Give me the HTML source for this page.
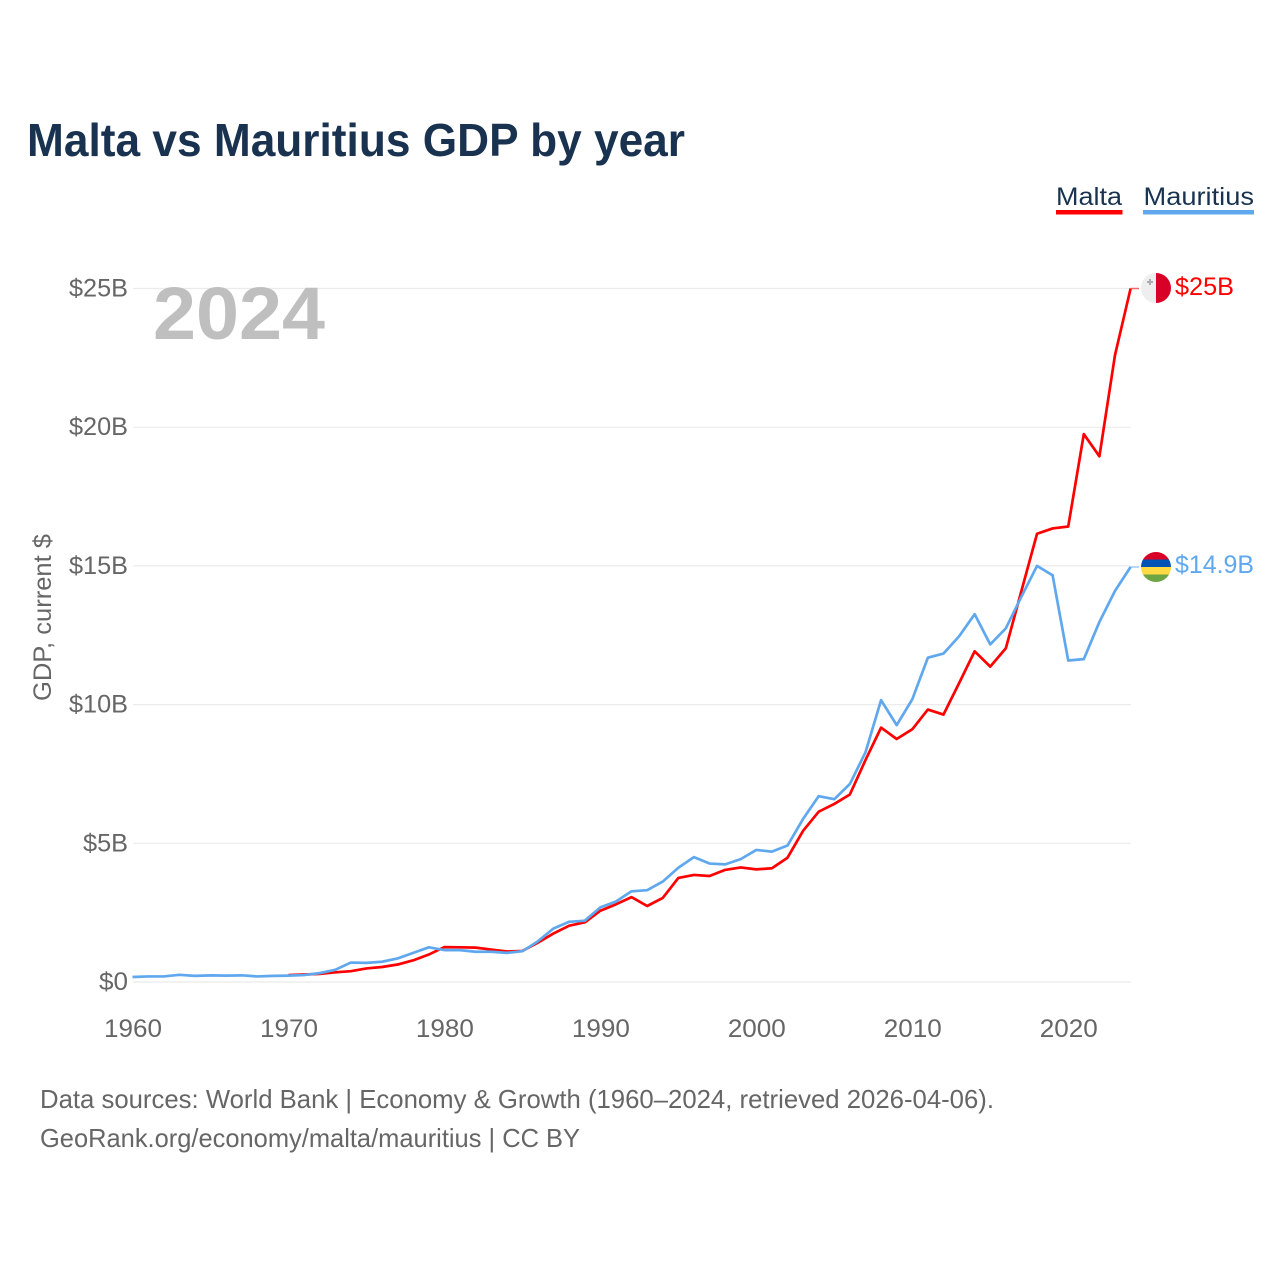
<!DOCTYPE html>
<html lang="en">
<head>
<meta charset="utf-8">
<title>Malta vs Mauritius GDP by year</title>
<style>
html,body{margin:0;padding:0;background:#fff;width:1280px;height:1280px;overflow:hidden}
svg{display:block}
text{font-family:"Liberation Sans",sans-serif}
</style>
</head>
<body>
<svg id="chart" xmlns="http://www.w3.org/2000/svg" width="1280" height="1280" viewBox="0 0 1280 1280">
  <rect width="1280" height="1280" fill="#fff"/>
  <text x="27" y="156" font-size="46" font-weight="700" fill="#18324f" textLength="658" lengthAdjust="spacingAndGlyphs">Malta vs Mauritius GDP by year</text>

  <g>
    <text x="1056" y="205" font-size="25" fill="#18324f" textLength="66" lengthAdjust="spacingAndGlyphs">Malta</text>
    <rect x="1056" y="210" width="66.500" height="4.500" fill="#ff0000"/>
  </g>
  <g>
    <text x="1143.500" y="205" font-size="25" fill="#18324f" textLength="110.500" lengthAdjust="spacingAndGlyphs">Mauritius</text>
    <rect x="1143" y="210" width="111" height="4.500" fill="#60a8ee"/>
  </g>

  <g id="grid"></g>
  <g id="yticks"></g>
  <g id="xticks"></g>

  <text x="153" y="339" font-size="74" font-weight="700" fill="#bfbfbf" textLength="172" lengthAdjust="spacingAndGlyphs">2024</text>

  <text transform="translate(51,701) rotate(-90)" x="0" y="0" font-size="25" fill="#666" textLength="167" lengthAdjust="spacingAndGlyphs">GDP, current $</text>

  <g id="series"></g>

  <g>
    <clipPath id="clip-mt"><circle cx="1156" cy="288" r="15"/></clipPath>
    <g clip-path="url(#clip-mt)">
      <rect x="1141" y="273" width="15" height="30" fill="#eeeeee"/>
      <rect x="1156" y="273" width="15" height="30" fill="#d80027"/>
      <path d="M1149 279h2v2h2v2h-2v2h-2v-2h-2v-2h2z" fill="#acabb1"/>
    </g>
  </g>
  <g>
    <clipPath id="clip-mu"><circle cx="1156" cy="567" r="15"/></clipPath>
    <g clip-path="url(#clip-mu)">
      <rect x="1141" y="552" width="30" height="7.500" fill="#d80027"/>
      <rect x="1141" y="559.500" width="30" height="7.500" fill="#0052b4"/>
      <rect x="1141" y="567" width="30" height="7.500" fill="#ffda44"/>
      <rect x="1141" y="574.500" width="30" height="7.500" fill="#6da544"/>
    </g>
  </g>

  <text x="1175" y="295" font-size="25" fill="#ff0000" textLength="59" lengthAdjust="spacingAndGlyphs">$25B</text>
  <text x="1175" y="573" font-size="25" fill="#60a8ee" textLength="79" lengthAdjust="spacingAndGlyphs">$14.9B</text>

  <text x="40" y="1108" font-size="26" fill="#666" textLength="954" lengthAdjust="spacingAndGlyphs">Data sources: World Bank | Economy &amp; Growth (1960–2024, retrieved 2026-04-06).</text>
  <text x="40" y="1147" font-size="26" fill="#666" textLength="540" lengthAdjust="spacingAndGlyphs">GeoRank.org/economy/malta/mauritius | CC BY</text>
</svg>
<script>
const years = [1960,1961,1962,1963,1964,1965,1966,1967,1968,1969,1970,1971,1972,1973,1974,1975,1976,1977,1978,1979,1980,1981,1982,1983,1984,1985,1986,1987,1988,1989,1990,1991,1992,1993,1994,1995,1996,1997,1998,1999,2000,2001,2002,2003,2004,2005,2006,2007,2008,2009,2010,2011,2012,2013,2014,2015,2016,2017,2018,2019,2020,2021,2022,2023,2024];
const maltaValues = [null,null,null,null,null,null,null,null,null,null,0.25,0.27,0.29,0.35,0.39,0.49,0.54,0.63,0.78,0.99,1.26,1.25,1.24,1.17,1.10,1.12,1.42,1.75,2.03,2.15,2.57,2.80,3.06,2.74,3.03,3.75,3.86,3.82,4.04,4.13,4.06,4.10,4.48,5.45,6.14,6.42,6.76,8.00,9.17,8.76,9.11,9.82,9.64,10.77,11.92,11.37,12.03,14.10,16.16,16.35,16.42,19.75,18.95,22.60,25.00];
const mauritiusValues = [0.18,0.20,0.20,0.26,0.22,0.24,0.23,0.24,0.20,0.22,0.23,0.25,0.32,0.44,0.70,0.69,0.73,0.85,1.05,1.25,1.15,1.15,1.09,1.09,1.05,1.11,1.47,1.93,2.17,2.21,2.69,2.90,3.27,3.31,3.62,4.12,4.50,4.27,4.24,4.43,4.76,4.70,4.92,5.88,6.70,6.59,7.14,8.28,10.16,9.26,10.19,11.69,11.84,12.46,13.26,12.17,12.75,13.89,15.00,14.66,11.59,11.64,12.98,14.10,14.96];
const xTickLabels = [1960,1970,1980,1990,2000,2010,2020];
const yTickValues = [0,5,10,15,20,25];
const yTickLabels = ["$0","$5B","$10B","$15B","$20B","$25B"];

const NS = "http://www.w3.org/2000/svg";
const x = function (year) { return 132.5 + (year - 1960) * (1130.6 - 132.5) / 64; };
const y = function (value) { return 982 - value * (982 - 288.5) / 25; };

const make = function (tag, attrs, parent) {
  const el = document.createElementNS(NS, tag);
  Object.keys(attrs).forEach(function (k) { el.setAttribute(k, attrs[k]); });
  parent.appendChild(el);
  return el;
};

const grid = document.getElementById("grid");
const yticks = document.getElementById("yticks");
const xticks = document.getElementById("xticks");
const series = document.getElementById("series");

yTickValues.forEach(function (v, i) {
  const line = make("line", {x1: 133, x2: 1131, y1: y(v), y2: y(v), stroke: "#ebebeb", "stroke-width": 1.2}, grid);
  
  
  const label = make("text", {x: 128, y: y(v) + 8, "text-anchor": "end", "font-size": 25, fill: "#666", "textLength": 14 * yTickLabels[i].length + (i === 0 ? 1 : 3), lengthAdjust: "spacingAndGlyphs"}, yticks);
  
  
  label.textContent = yTickLabels[i];
});

xTickLabels.forEach(function (t) {
  const label = make("text", {x: x(t) + 0.5, y: 1037, "text-anchor": "middle", "font-size": 25, fill: "#666", "textLength": 58, lengthAdjust: "spacingAndGlyphs"}, xticks);
  
  
  label.textContent = t;
});

const drawSeries = function (values, color) {
  const parts = [];
  values.forEach(function (v, i) {
    if (v === null) { return; }
    parts.push(x(years[i]).toFixed(2) + "," + y(v).toFixed(2));
  });
  return make("polyline", {points: parts.join(" "), fill: "none", stroke: color, "stroke-width": 2.7, "stroke-linejoin": "round"}, series);
};

const drawConnector = function (values, color) {
  const last = values[values.length - 1];
  return make("line", {x1: x(years[years.length - 1]), x2: 1139, y1: y(last), y2: y(last), stroke: color, "stroke-width": 1.5, "stroke-opacity": 0.6}, series);
};

const maltaLine = drawSeries(maltaValues, "#ff0000");


const mauritiusLine = drawSeries(mauritiusValues, "#60a8ee");


const maltaConnector = drawConnector(maltaValues, "#ff0000");


const mauritiusConnector = drawConnector(mauritiusValues, "#60a8ee");


</script>
</body>
</html>
